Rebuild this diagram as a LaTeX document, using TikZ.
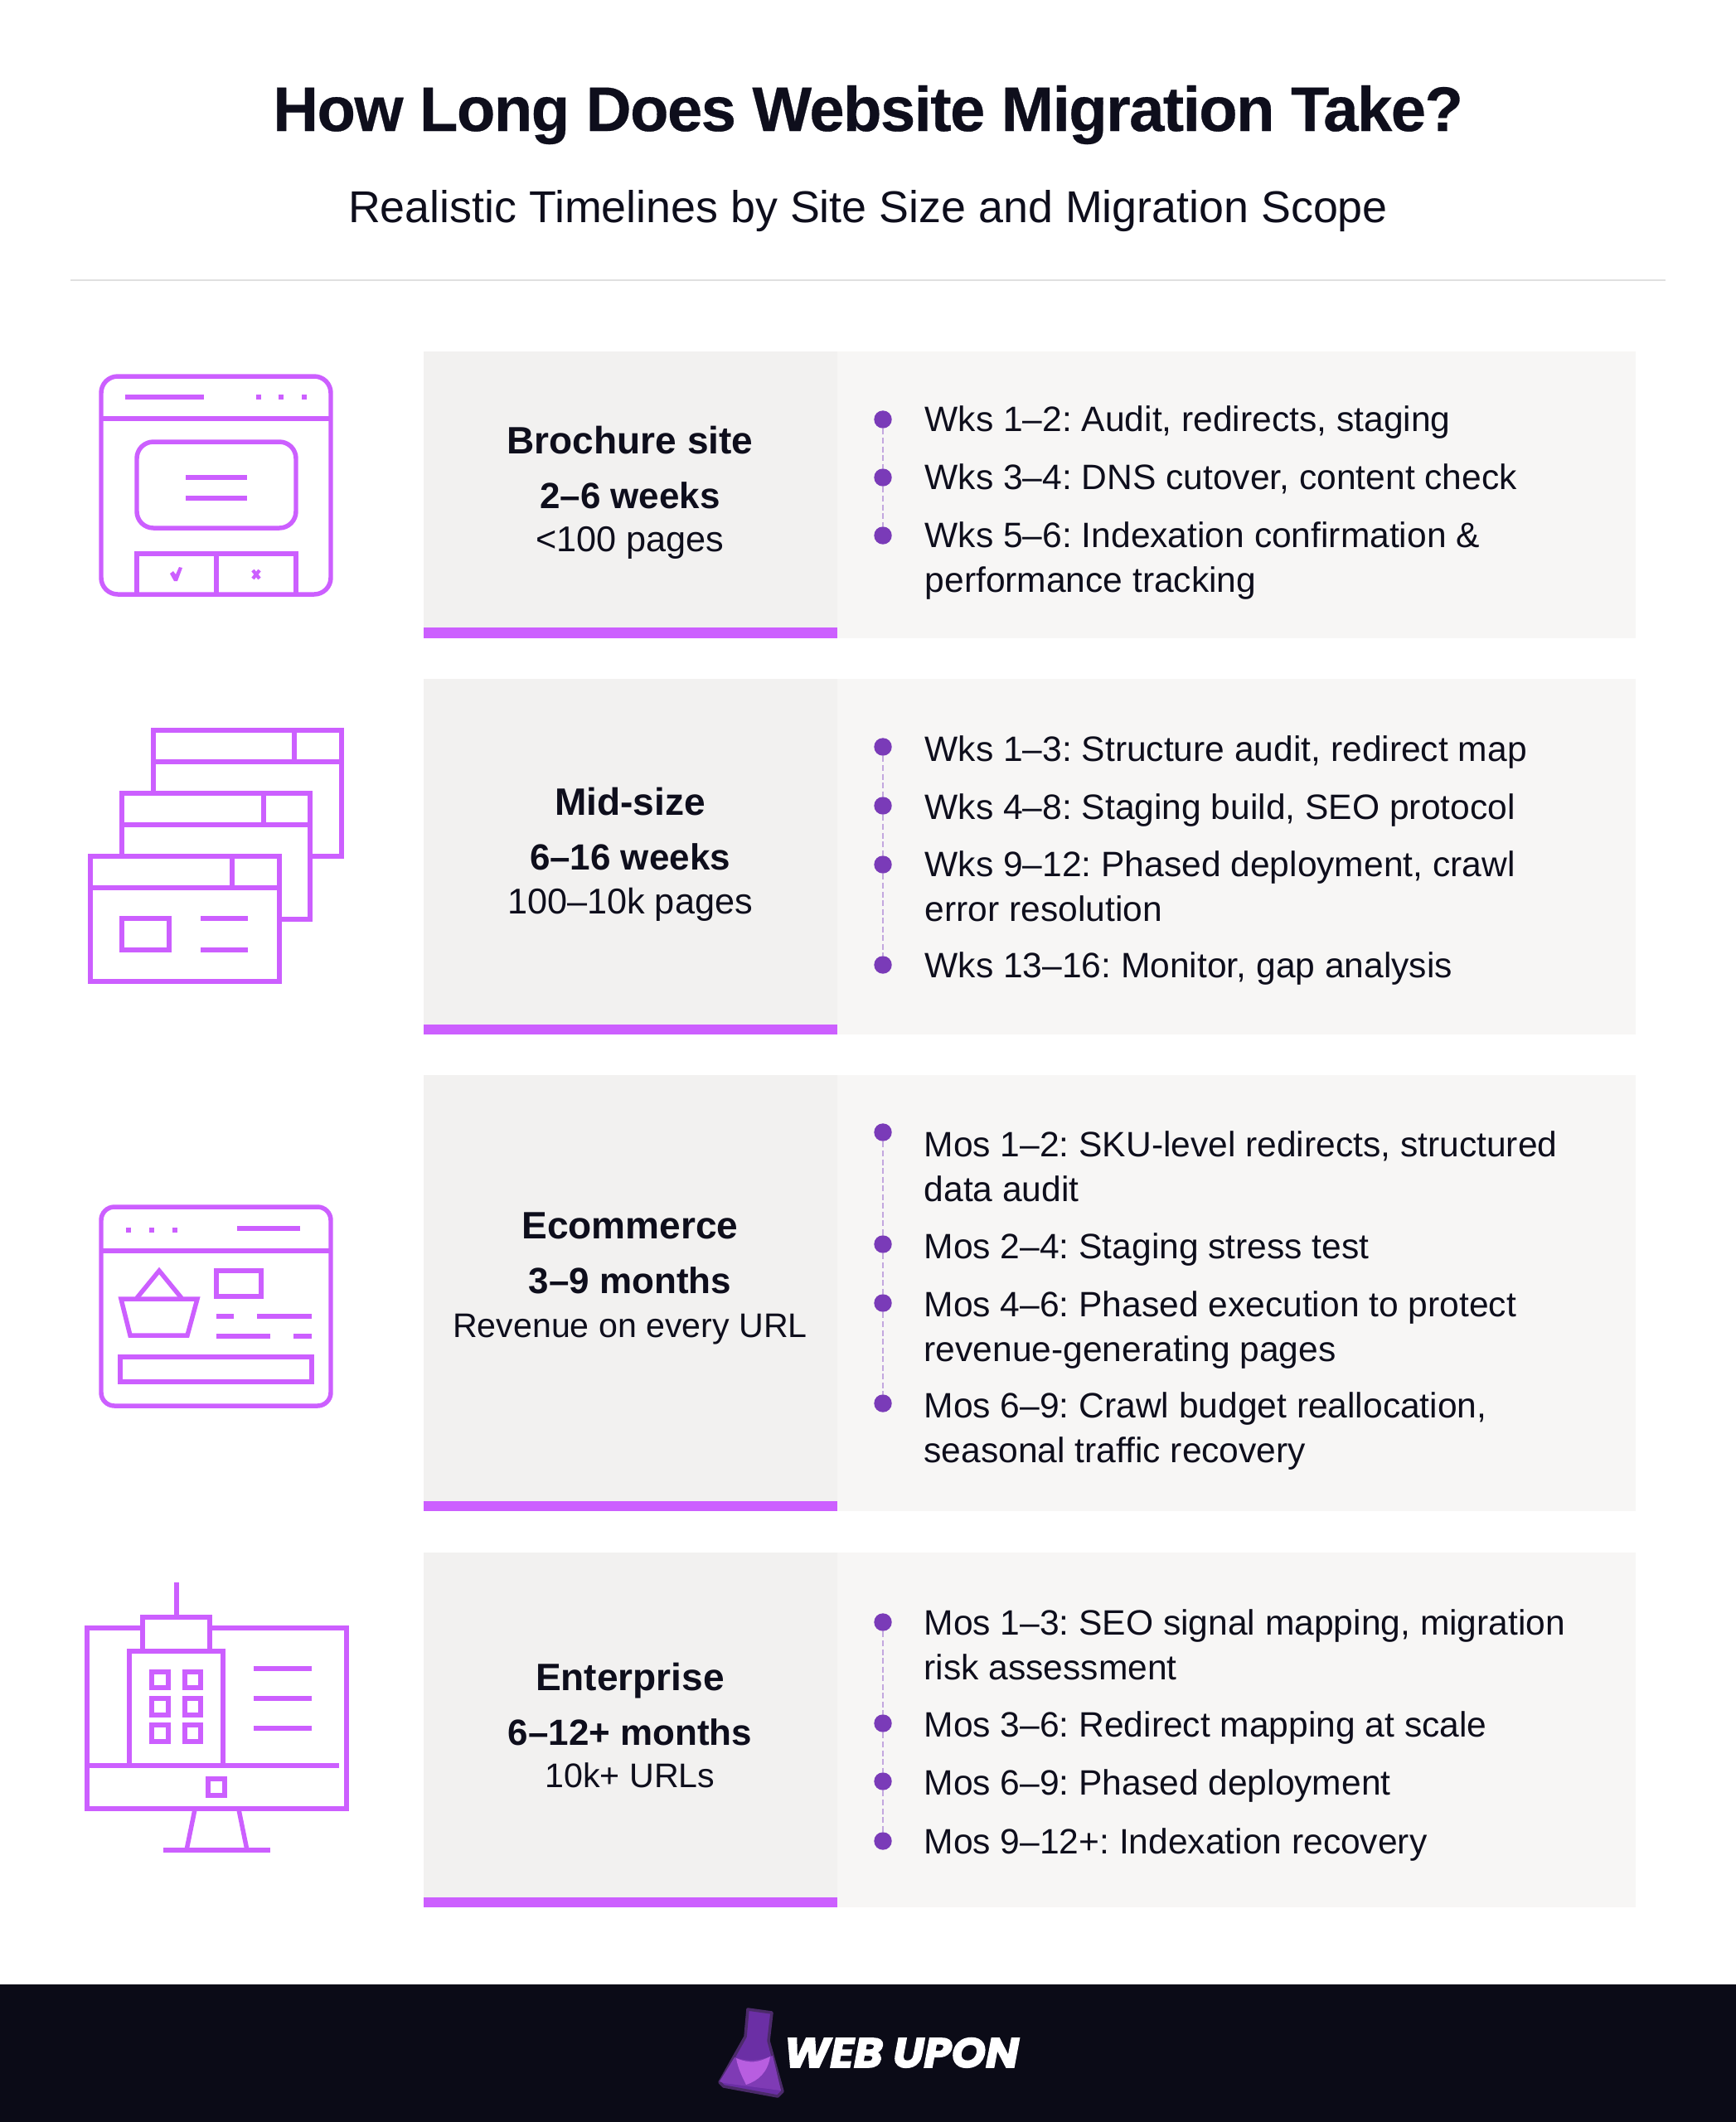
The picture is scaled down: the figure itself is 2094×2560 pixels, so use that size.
\documentclass[tikz,border=0pt]{standalone}
\usepackage{xcolor}
\usepackage{fontspec}
\setmainfont{Liberation Sans}
\newfontfamily\titlefamily[LetterSpace=-2, BoldFeatures={FakeBold=0.4}]{Liberation Sans}
\newfontfamily\logofamily[BoldItalicFeatures={FakeBold=3, FakeStretch=1.06}]{Poppins}

\definecolor{iconpurple}{HTML}{CC5FFF}
\definecolor{dotpurple}{HTML}{7A3BB8}
\definecolor{flaskedge}{HTML}{4B2A6A}
\definecolor{flaskbody}{HTML}{6B2FA5}
\definecolor{flaskfill}{HTML}{7F3BB5}
\definecolor{flasklight}{HTML}{B85EE0}
\definecolor{inkdark}{HTML}{0E0E1C}
\definecolor{footdark}{HTML}{0B0B17}
\definecolor{panelleft}{HTML}{F2F1F0}
\definecolor{panelright}{HTML}{F7F6F5}

\tikzset{
    icon/.style={draw=iconpurple, line width=1.56pt, fill=white},
    iconline/.style={draw=iconpurple, line width=1.56pt},
    cardname/.style={anchor=base, text=inkdark, font=\fontsize{13.1}{15}\selectfont\bfseries},
    cardtime/.style={anchor=base, yshift=-0.02cm, text=inkdark, font=\fontsize{12.5}{15}\selectfont\bfseries},
    cardsize/.style={anchor=base, yshift=-0.01cm, text=inkdark, font=\fontsize{12.3}{15}\selectfont},
    cardsizelow/.style={anchor=base, yshift=-0.01cm, text=inkdark, font=\fontsize{11.7}{15}\selectfont},
    itemtext/.style={anchor=base west, yshift=-0.02cm, inner sep=0pt, align=left, text=inkdark, font=\fontsize{12.1}{15.08}\selectfont},
    dotmark/.style={circle, fill=dotpurple, inner sep=0pt, minimum size=0.214cm},
    dotlink/.style={draw=dotpurple!45, line width=0.55pt, dash pattern=on 2pt off 1pt}
}

\begin{document}
\frenchspacing
\begin{tikzpicture}[x=0.01cm, y=-0.01cm]
    \useasboundingbox (0,0) rectangle (2094,2560);

    \node (title) [anchor=base, text=inkdark, font=\fontsize{21.6}{26}\selectfont\titlefamily\bfseries] at (1047,158) {How Long Does Website Migration Take?};
    \node (subtitle) [anchor=base, text=inkdark, font=\fontsize{15.3}{18}\selectfont] at (1047,268) {Realistic Timelines by Site Size and Migration Scope};
    \draw [black!12, line width=0.3pt] (85,338) -- (2009,338);

    % row panels
    \fill [panelleft] (511,424) rectangle (1010,770);
    \fill [panelright] (1010,424) rectangle (1973,770);
    \fill [iconpurple] (511,757) rectangle (1010,770);
    \fill [panelleft] (511,819) rectangle (1010,1248);
    \fill [panelright] (1010,819) rectangle (1973,1248);
    \fill [iconpurple] (511,1236) rectangle (1010,1248);
    \fill [panelleft] (511,1297) rectangle (1010,1823);
    \fill [panelright] (1010,1297) rectangle (1973,1823);
    \fill [iconpurple] (511,1811) rectangle (1010,1823);
    \fill [panelleft] (511,1873) rectangle (1010,2301);
    \fill [panelright] (1010,1873) rectangle (1973,2301);
    \fill [iconpurple] (511,2289) rectangle (1010,2301);

    % brochure
    \node (namea) [cardname] at (760,547) {Brochure site};
    \node (timea) [cardtime] at (760,611) {2–6 weeks};
    \node (sizea) [cardsize] at (760,664) {<100 pages};
    \node (dota1) [dotmark] at (1065,506) {};
    \node (dota2) [dotmark] at (1065,576) {};
    \node (dota3) [dotmark] at (1065,646) {};
    \draw [dotlink] (dota1) -- (dota2);
    \draw [dotlink] (dota2) -- (dota3);
    \node (itema1) [itemtext] at (1115,518) {Wks 1–2: Audit, redirects, staging};
    \node (itema2) [itemtext] at (1115,588) {Wks 3–4: DNS cutover, content check};
    \node (itema3) [itemtext] at (1115,712) {Wks 5–6: Indexation confirmation \&\\performance tracking};

    % mid-size
    \node (nameb) [cardname] at (760,983) {Mid-size};
    \node (timeb) [cardtime] at (760,1047) {6–16 weeks};
    \node (sizeb) [cardsize] at (760,1101) {100–10k pages};
    \node (dotb1) [dotmark] at (1065,901) {};
    \node (dotb2) [dotmark] at (1065,972) {};
    \node (dotb3) [dotmark] at (1065,1043) {};
    \node (dotb4) [dotmark] at (1065,1164) {};
    \draw [dotlink] (dotb1) -- (dotb2);
    \draw [dotlink] (dotb2) -- (dotb3);
    \draw [dotlink] (dotb3) -- (dotb4);
    \node (itemb1) [itemtext] at (1115,916) {Wks 1–3: Structure audit, redirect map};
    \node (itemb2) [itemtext] at (1115,986) {Wks 4–8: Staging build, SEO protocol};
    \node (itemb3) [itemtext] at (1115,1109) {Wks 9–12: Phased deployment, crawl\\error resolution};
    \node (itemb4) [itemtext] at (1115,1177) {Wks 13–16: Monitor, gap analysis};

    % ecommerce
    \node (namec) [cardname] at (760,1494) {Ecommerce};
    \node (timec) [cardtime] at (760,1558) {3–9 months};
    \node (sizec) [cardsizelow] at (760,1612) {Revenue on every URL};
    \node (dotc1) [dotmark] at (1065,1366) {};
    \node (dotc2) [dotmark] at (1065,1501) {};
    \node (dotc3) [dotmark] at (1065,1572) {};
    \node (dotc4) [dotmark] at (1065,1693) {};
    \draw [dotlink] (dotc1) -- (dotc2);
    \draw [dotlink] (dotc2) -- (dotc3);
    \draw [dotlink] (dotc3) -- (dotc4);
    \node (itemc1) [itemtext] at (1114,1447) {Mos 1–2: SKU-level redirects, structured\\data audit};
    \node (itemc2) [itemtext] at (1114,1516) {Mos 2–4: Staging stress test};
    \node (itemc3) [itemtext] at (1114,1640) {Mos 4–6: Phased execution to protect\\revenue-generating pages};
    \node (itemc4) [itemtext] at (1114,1762) {Mos 6–9: Crawl budget reallocation,\\seasonal traffic recovery};

    % enterprise
    \node (named) [cardname] at (760,2039) {Enterprise};
    \node (timed) [cardtime] at (760,2103) {6–12+ months};
    \node (sized) [cardsizelow] at (760,2155) {10k+ URLs};
    \node (dotd1) [dotmark] at (1065,1957) {};
    \node (dotd2) [dotmark] at (1065,2079) {};
    \node (dotd3) [dotmark] at (1065,2149) {};
    \node (dotd4) [dotmark] at (1065,2221) {};
    \draw [dotlink] (dotd1) -- (dotd2);
    \draw [dotlink] (dotd2) -- (dotd3);
    \draw [dotlink] (dotd3) -- (dotd4);
    \node (itemd1) [itemtext] at (1114,2024) {Mos 1–3: SEO signal mapping, migration\\risk assessment};
    \node (itemd2) [itemtext] at (1114,2093) {Mos 3–6: Redirect mapping at scale};
    \node (itemd3) [itemtext] at (1114,2163) {Mos 6–9: Phased deployment};
    \node (itemd4) [itemtext] at (1114,2234) {Mos 9–12+: Indexation recovery};

    % icon 1
    \draw [icon, rounded corners=0.2cm] (122,454) rectangle (399,717);
    \draw [iconline] (122,505) -- (399,505);
    \draw [iconline] (151,479) -- (246,479);
    \draw [iconline] (309,479) -- (315,479);
    \draw [iconline] (336,479) -- (342,479);
    \draw [iconline] (364,479) -- (370,479);
    \draw [icon, rounded corners=0.2cm] (165,533) rectangle (357,637);
    \draw [iconline] (224,576) -- (298,576);
    \draw [iconline] (224,601) -- (298,601);
    \draw [iconline] (165,717) -- (165,668) -- (357,668) -- (357,717);
    \draw [iconline] (261,668) -- (261,717);
    \fill [iconpurple] (205,692) -- (209,689) -- (212,693) -- (216,684) -- (220,685) -- (214,701) -- (210,701) -- cycle;
    \draw [iconpurple, line width=1.2pt] (305,688) -- (313,698);
    \draw [iconpurple, line width=1.2pt] (313,688) -- (305,698);

    % icon 2
    \draw [icon] (185,881) rectangle (412,1033);
    \draw [iconline] (185,919) -- (412,919);
    \draw [iconline] (355,881) -- (355,919);
    \draw [icon] (147,957) rectangle (374,1109);
    \draw [iconline] (147,995) -- (374,995);
    \draw [iconline] (318,957) -- (318,995);
    \draw [icon] (109,1033) rectangle (337,1184);
    \draw [iconline] (109,1071) -- (337,1071);
    \draw [iconline] (280,1033) -- (280,1071);
    \draw [icon] (147,1108) rectangle (204,1146);
    \draw [iconline] (242,1108) -- (299,1108);
    \draw [iconline] (242,1146) -- (299,1146);

    % icon 3
    \draw [icon, rounded corners=0.16cm] (122,1456) rectangle (399,1696);
    \draw [iconline] (122,1509) -- (399,1509);
    \draw [iconline] (152,1484) -- (158,1484);
    \draw [iconline] (180,1484) -- (186,1484);
    \draw [iconline] (208,1484) -- (214,1484);
    \draw [iconline] (286,1482) -- (362,1482);
    \draw [iconline] (165,1566) -- (192,1533) -- (219,1566);
    \draw [iconline] (146,1567) -- (238,1567) -- (226,1611) -- (157,1611) -- cycle;
    \draw [iconline] (261,1533) rectangle (315,1564);
    \draw [iconline] (261,1588) -- (282,1588);
    \draw [iconline] (310,1588) -- (376,1588);
    \draw [iconline] (261,1612) -- (326,1612);
    \draw [iconline] (354,1612) -- (376,1612);
    \draw [iconline] (145,1637) rectangle (376,1667);

    % icon 4
    \draw [iconline] (105,1964) rectangle (418,2182);
    \draw [iconline] (105,2130) -- (409,2130);
    \draw [iconline] (251,2146) rectangle (271,2166);
    \draw [iconline] (235,2183) -- (225,2232);
    \draw [iconline] (288,2183) -- (298,2232);
    \draw [iconline] (197,2232) -- (326,2232);
    \draw [iconline] (213,1909) -- (213,1951);
    \draw [icon] (172,1951) rectangle (253,1992);
    \draw [icon] (156,1992) rectangle (269,2130);
    \draw [iconline] (183,2017) rectangle (203,2036);
    \draw [iconline] (223,2017) rectangle (242,2036);
    \draw [iconline] (183,2049) rectangle (203,2069);
    \draw [iconline] (223,2049) rectangle (242,2069);
    \draw [iconline] (183,2081) rectangle (203,2101);
    \draw [iconline] (223,2081) rectangle (242,2101);
    \draw [iconline] (306,2013) -- (376,2013);
    \draw [iconline] (306,2049) -- (376,2049);
    \draw [iconline] (306,2085) -- (376,2085);

    % footer and logo
    \fill [footdark] (0,2394) rectangle (2094,2560);
    \draw [draw=flaskedge, fill=flaskbody, line width=1pt, line join=round]
        (902,2424) -- (931,2428) -- (927,2462) -- (944,2523) -- (938,2529)
        -- (873,2517) -- (868,2512) -- (899,2457) -- cycle;
    \fill [flaskfill] (886,2482) .. controls (905,2488) and (915,2486) .. (932,2480)
        -- (942,2522) -- (873,2513) -- (868,2511) -- cycle;
    \fill [flasklight] (888,2483) .. controls (905,2490) and (915,2488) .. (929,2481)
        .. controls (926,2500) and (915,2510) .. (900,2515) .. controls (895,2505) and (890,2495) .. (888,2483) -- cycle;
    \node (logoword) [anchor=base west, inner sep=0pt, text=white, font=\fontsize{14.2}{17}\selectfont\logofamily\bfseries\itshape] at (945,2494) {WEB UPON};
\end{tikzpicture}
\end{document}
